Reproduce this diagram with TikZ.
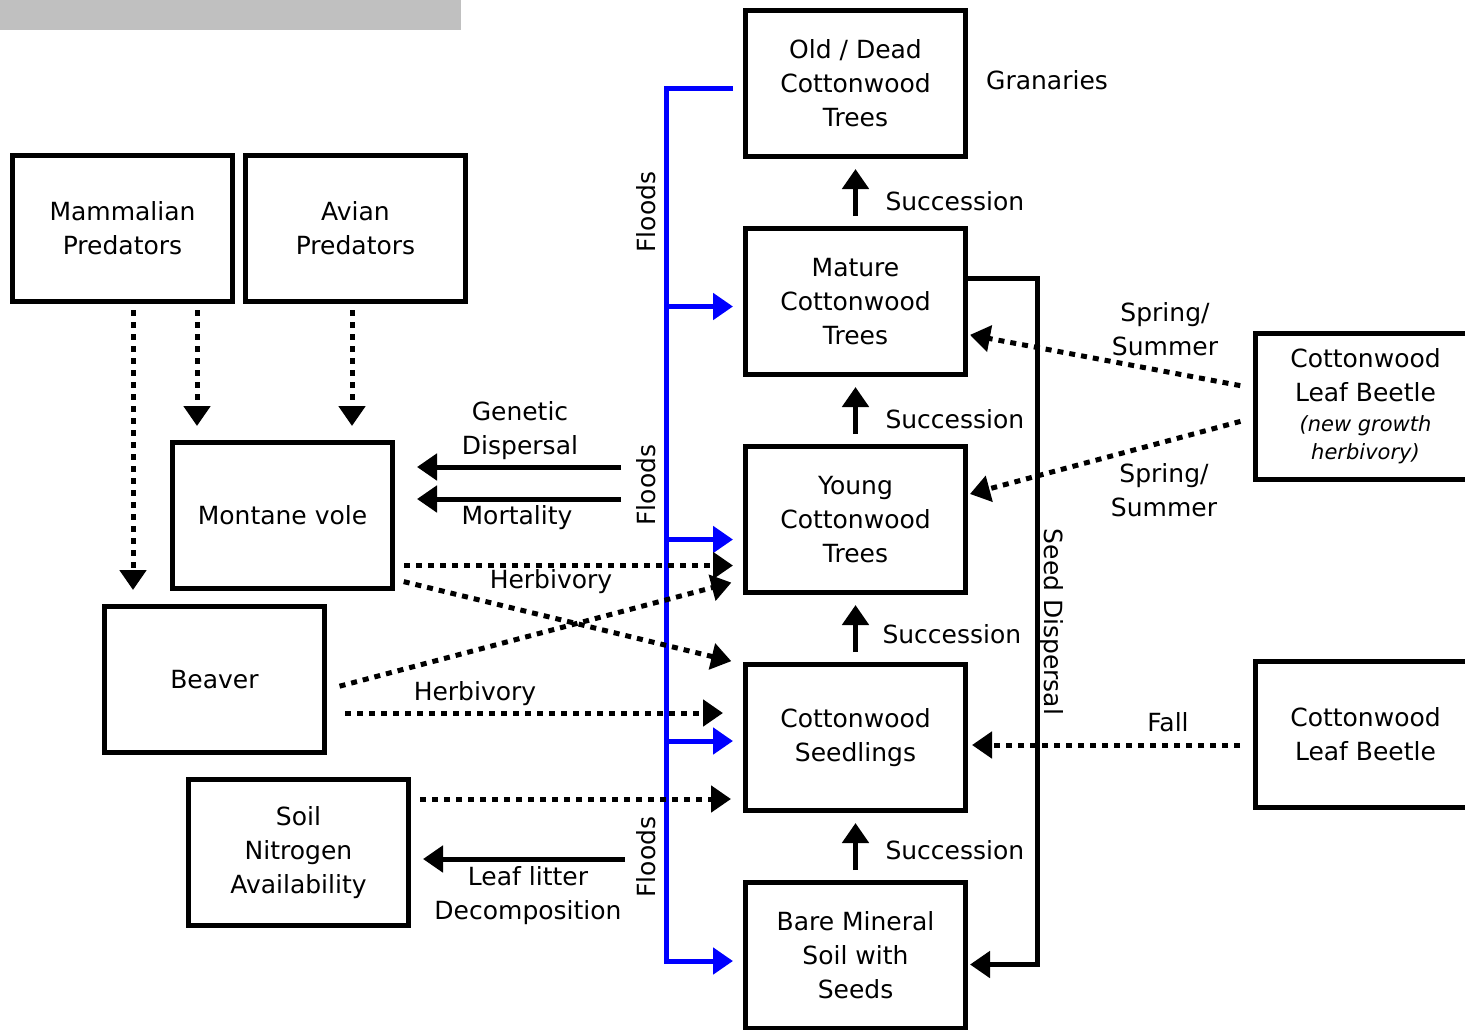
\documentclass[tikz,border=0pt]{standalone}
\usepackage{fontspec}
\setmainfont{DejaVu Sans}
\usetikzlibrary{arrows.meta, positioning, calc}
\definecolor{titlegray}{RGB}{192,192,192}
\newcommand{\notefont}{\fontsize{10.5}{13}\selectfont\itshape}

\begin{document}
\begin{tikzpicture}
            [x=0.5pt, y=-0.5pt, node distance=33.5pt, line width=2.5pt,
            >={Triangle[length=10pt,width=13pt]},
            font=\fontsize{12.5}{17}\selectfont,
            box/.style={rectangle, align=center, draw=black, minimum width=110pt, minimum height=73pt, inner sep=0pt},
            lbl/.style={align=center, inner sep=0pt},
            solidarrow/.style={->},
            dotarrow/.style={->, dash pattern=on 3pt off 3pt},
            flood/.style={->, draw=blue}]

            \useasboundingbox (0,0) rectangle (1465,1029);
            \fill[titlegray] (0,0) rectangle (461,30);

            \node[box] (old) at (855.5,83.5) {Old / Dead\\Cottonwood\\Trees};
            \node[box] (mature) [below = of old] {Mature\\Cottonwood\\Trees};
            \node[box] (young) [below = of mature] {Young\\Cottonwood\\Trees};
            \node[box] (seedlings) [below = of young] {Cottonwood\\Seedlings};
            \node[box] (bare) [below = of seedlings] {Bare Mineral\\Soil with\\Seeds};

            \node[box] (mammal) at (122.5,228.5) {Mammalian\\Predators};
            \node[box] (avian) [right = 4pt of mammal] {Avian\\Predators};
            \node[box] (vole) at (282.5,515.5) {Montane vole};
            \node[box] (beaver) at (214.5,679.5) {Beaver};
            \node[box] (soil) at (298.5,852.5) {Soil\\Nitrogen\\Availability};
            \node[box] (beetleA) at (1365.5,406.5) {Cottonwood\\Leaf Beetle\\[-2pt]{\notefont (new growth}\\[-3pt]{\notefont herbivory)}};
            \node[box] (beetleB) at (1365.5,734.5) {Cottonwood\\Leaf Beetle};

            \node[lbl] (granaries) at (1047,80) {Granaries};
            \node[lbl, anchor=west] (succ1) at (883,201) {Succession};
            \node[lbl, anchor=west] (succ2) at (883,419) {Succession};
            \node[lbl, anchor=west] (succ3) at (880,634) {Succession};
            \node[lbl, anchor=west] (succ4) at (883,850) {Succession};
            \node[lbl, rotate=90] (flood1) at (646,212) {Floods};
            \node[lbl, rotate=90] (flood2) at (646,485) {Floods};
            \node[lbl, rotate=90] (flood3) at (646,857) {Floods};
            \node[lbl, rotate=-90] (seeddisp) at (1051,622) {Seed Dispersal};
            \node[lbl] (genetic) at (520,431) {Genetic\\Dispersal};
            \node[lbl] (mortality) at (517,518) {Mortality};
            \node[lbl] (herb1) at (551,582) {Herbivory};
            \node[lbl] (herb2) at (475,694) {Herbivory};
            \node[lbl] (litter) at (528,896) {Leaf litter\\Decomposition};
            \node[lbl] (spring1) at (1165,329) {Spring/\\Summer};
            \node[lbl] (spring2) at (1164,490) {Spring/\\Summer};
            \node[lbl] (fall) at (1168,722) {Fall};

            \coordinate (fltop) at (666,88);
            \coordinate (flbot) at (666,961);
            \coordinate (gen) at (621,467);
            \coordinate (mort) at (621,499);
            \coordinate (leaf) at (625,859);

            \foreach \a/\b in {mature/old, young/mature, seedlings/young, bare/seedlings}
                \draw[solidarrow, shorten <=5pt, shorten >=5pt] (\a) -- (\b);

            \draw[flood, shorten <=5pt, shorten >=5pt] (old.west |- fltop) -- (fltop) -- (flbot) -- (bare.west |- flbot);
            \foreach \n/\dy in {mature/-2.5pt, young/-10pt, seedlings/-1.75pt}
                \draw[flood, shorten >=5pt] ([yshift=\dy]\n.west -| fltop) -- ([yshift=\dy]\n.west);

            \draw[solidarrow, shorten >=1pt] ([yshift=11.5pt]mature.east) -- ++(69,0) |- ([yshift=-4.5pt]bare.east);

            \draw[solidarrow, shorten >=11pt] (gen) -- (gen -| vole.east);
            \draw[solidarrow, shorten >=11pt] (mort) -- (mort -| vole.east);
            \draw[solidarrow, shorten >=6pt] (leaf) -- (leaf -| soil.east);

            \draw[dotarrow, shorten <=3pt, shorten >=7pt] ([xshift=5.25pt]mammal.south) -- ([xshift=5.25pt]mammal.south |- beaver.north);
            \draw[dotarrow, shorten <=3pt, shorten >=7pt] ([xshift=37.25pt]mammal.south) -- ([xshift=37.25pt]mammal.south |- vole.north);
            \draw[dotarrow, shorten <=3pt, shorten >=7pt] ([xshift=-1.75pt]avian.south) -- ([xshift=-1.75pt]avian.south |- vole.north);

            \draw[dotarrow, shorten <=4.5pt, shorten >=5pt] ([yshift=-25pt]vole.east) -- ([yshift=-25pt]vole.east -| young.west);
            \draw[dotarrow, shorten <=4.5pt, shorten >=6pt] ([yshift=-32pt]vole.east) -- ([yshift=36.75pt]seedlings.west);
            \draw[dotarrow, shorten <=6.5pt, shorten >=6pt] ([yshift=-5pt]beaver.east) -- ([yshift=-30pt]young.west);
            \draw[dotarrow, shorten <=9pt, shorten >=10pt] ([yshift=-16.75pt]beaver.east) -- ([yshift=-16.75pt]beaver.east -| seedlings.west);
            \draw[dotarrow, shorten <=4.5pt, shorten >=6pt] ([yshift=26.75pt]soil.east) -- ([yshift=26.75pt]soil.east -| seedlings.west);

            \draw[dotarrow, shorten <=6.5pt, shorten >=1pt] ([yshift=9.25pt]beetleA.west) -- ([yshift=-16.5pt]mature.east);
            \draw[dotarrow, shorten <=6.5pt, shorten >=1pt] ([yshift=-5.75pt]beetleA.west) -- ([yshift=12.5pt]young.east);
            \draw[dotarrow, shorten <=6.5pt, shorten >=2pt] ([yshift=-5.25pt]beetleB.west) -- ([yshift=-5.25pt]beetleB.west -| seedlings.east);
        \end{tikzpicture}
\end{document}
